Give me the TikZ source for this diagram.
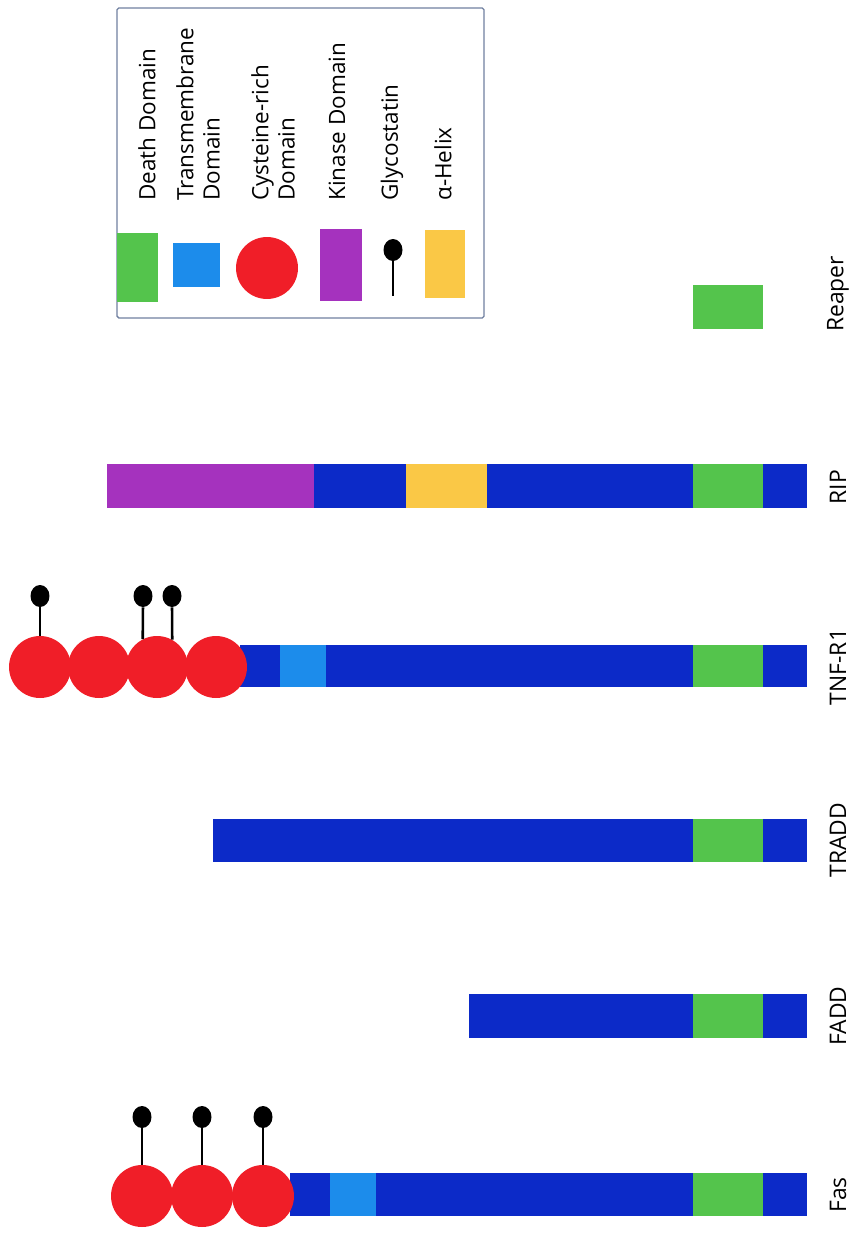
\documentclass[tikz,border=0pt]{standalone}
\usepackage{fontspec}
\setsansfont{Open Sans}
\usetikzlibrary{shapes.geometric}

\definecolor{ddgreen}{RGB}{84,196,76}
\definecolor{chain}{RGB}{12,42,200}
\definecolor{tmblue}{RGB}{28,140,235}
\definecolor{crdred}{RGB}{240,30,40}
\definecolor{kinase}{RGB}{165,50,190}
\definecolor{helix}{RGB}{250,200,70}
\definecolor{frame}{RGB}{112,128,160}

\tikzset{
  crd/.style={circle, fill=crdred, inner sep=0pt, minimum size=1.24cm},
  glyball/.style={ellipse, fill=black, inner sep=0pt, minimum width=0.38cm, minimum height=0.44cm},
  stalk/.style={line width=1.5pt, black},
  protlabel/.style={rotate=90, inner sep=0pt, font=\sffamily\fontsize{13}{15}\selectfont},
  legtext/.style={rotate=90, anchor=west, align=left, inner sep=0pt, font=\sffamily\fontsize{12.8}{15}\selectfont}
}

\begin{document}
\begin{tikzpicture}[x=0.02cm, y=-0.02cm]
  \useasboundingbox (0,0) rectangle (855,1233);

  % legend
  \draw[frame, line width=0.8pt, rounded corners=1pt] (117,8) rectangle (484,318);
  \node (lgDD) [legtext] at (147,201) {Death Domain};
  \node (lgTM) [legtext] at (198,201) {Transmembrane\\Domain};
  \node (lgCR) [legtext] at (273,201) {Cysteine-rich\\Domain};
  \node (lgKD) [legtext] at (337,201) {Kinase Domain};
  \node (lgGL) [legtext] at (392,201) {Glycostatin};
  \node (lgAH) [legtext] at (443,201) {α-Helix};
  \fill[ddgreen] (117,233) rectangle (158,302);
  \fill[tmblue] (173,243) rectangle (220,287);
  \node (lgCirc) [crd] at (267,268) {};
  \fill[kinase] (320,229) rectangle (362,301);
  \node (lgBall) [glyball] at (393,250) {};
  \coordinate (lgFoot) at (393,296);
  \draw[stalk] (lgBall) -- (lgFoot);
  \fill[helix] (425,230) rectangle (465,298);

  % Reaper
  \fill[ddgreen] (693,285) rectangle (763,329);
  \node (reaper) [protlabel] at (838,294) {Reaper};

  % RIP
  \fill[kinase] (107,464) rectangle (314,508);
  \fill[chain] (314,464) rectangle (406,508);
  \fill[helix] (406,464) rectangle (487,508);
  \fill[chain] (487,464) rectangle (693,508);
  \fill[ddgreen] (693,464) rectangle (763,508);
  \fill[chain] (763,464) rectangle (807,508);
  \node (rip) [protlabel] at (838,487) {RIP};

  % TNF-R1
  \fill[chain] (240,645) rectangle (280,687);
  \fill[tmblue] (280,645) rectangle (326,687);
  \fill[chain] (326,645) rectangle (693,687);
  \fill[ddgreen] (693,645) rectangle (763,687);
  \fill[chain] (763,645) rectangle (807,687);
  \node (tnfC1) [crd] at (40,667) {};
  \node (tnfC2) [crd] at (99,667) {};
  \node (tnfC3) [crd] at (157,667) {};
  \node (tnfC4) [crd] at (216,667) {};
  \node (tnfG1) [glyball] at (40,596) {};
  \node (tnfG2) [glyball] at (143,596) {};
  \node (tnfG3) [glyball] at (172,596) {};
  \draw[stalk] (tnfG1) -- (tnfC1.north);
  \draw[stalk] (tnfG2) -- (tnfC3.117);
  \draw[stalk] (tnfG3) -- (tnfC3.61);
  \node (tnfr) [protlabel] at (838,667) {TNF-R1};

  % TRADD
  \fill[chain] (213,819) rectangle (693,862);
  \fill[ddgreen] (693,819) rectangle (763,862);
  \fill[chain] (763,819) rectangle (807,862);
  \node (tradd) [protlabel] at (838,840) {TRADD};

  % FADD
  \fill[chain] (469,994) rectangle (693,1038);
  \fill[ddgreen] (693,994) rectangle (763,1038);
  \fill[chain] (763,994) rectangle (807,1038);
  \node (fadd) [protlabel] at (838,1016) {FADD};

  % Fas
  \fill[chain] (290,1173) rectangle (330,1216);
  \fill[tmblue] (330,1173) rectangle (376,1216);
  \fill[chain] (376,1173) rectangle (693,1216);
  \fill[ddgreen] (693,1173) rectangle (763,1216);
  \fill[chain] (763,1173) rectangle (807,1216);
  \node (fasC1) [crd] at (142,1196) {};
  \node (fasC2) [crd] at (202,1196) {};
  \node (fasC3) [crd] at (263,1196) {};
  \node (fasG1) [glyball] at (142,1117) {};
  \node (fasG2) [glyball] at (202,1117) {};
  \node (fasG3) [glyball] at (263,1117) {};
  \draw[stalk] (fasG1) -- (fasC1.north);
  \draw[stalk] (fasG2) -- (fasC2.north);
  \draw[stalk] (fasG3) -- (fasC3.north);
  \node (fas) [protlabel] at (838,1195) {Fas};
\end{tikzpicture}
\end{document}
